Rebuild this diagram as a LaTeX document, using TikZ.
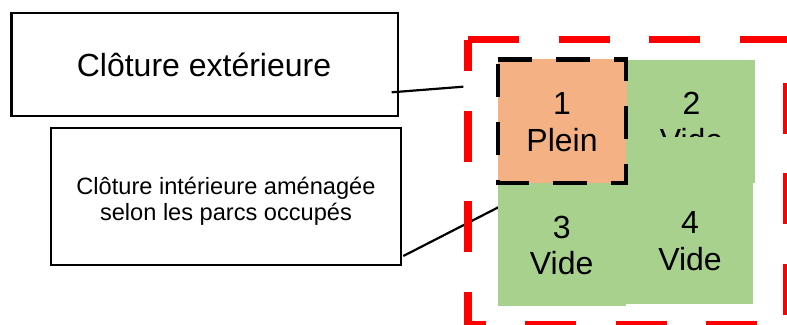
\documentclass[tikz,border=0pt]{standalone}
\usepackage{fontspec}
\setmainfont{Liberation Sans}
\definecolor{pleinc}{HTML}{F4B183}
\definecolor{videc}{HTML}{A9D18E}
\definecolor{fencec}{HTML}{FF0000}
\begin{document}
\begin{tikzpicture}[x=1pt,y=-1pt,
  labelbox/.style={draw=black, line width=2.4pt, fill=none, inner sep=0pt},
  park/.style={draw=none, inner sep=0pt},
  bigtxt/.style={inner sep=0pt, align=center, anchor=base, font=\fontsize{32}{36.8}\selectfont},
  smalltxt/.style={inner sep=0pt, align=center, anchor=base, font=\fontsize{23.6}{26}\selectfont},
  connector/.style={draw=black, line width=2.2pt},
  outerfence/.style={draw=fencec, line width=7.6pt, dash pattern=on 51pt off 39.5pt},
  innerfence/.style={draw=black, line width=4.4pt, dash pattern=on 33.5pt off 24.5pt}]
\useasboundingbox (0,0) rectangle (787,324);
% label boxes
\node[labelbox, minimum width=386.5pt, minimum height=103.4pt] (ext) at (204.55,64.5) {};
\node[labelbox, minimum width=349.5pt, minimum height=136.7pt] (int) at (225.95,196.35) {};
\node[bigtxt] (exttxt) at (204,76) {Clôture extérieure};
\node[smalltxt] (inttxt) at (226,220.4) {Clôture intérieure aménagée\\selon les parcs occupés};
% connectors
\coordinate (c1a) at (391.7,92.3);
\coordinate (c1b) at (463.3,86.7);
\coordinate (c2a) at (403.3,256);
\coordinate (c2b) at (498.3,207.3);
\draw[connector] (c1a) -- (c1b);
\draw[connector] (c2a) -- (c2b);
% parks
\node[park, fill=pleinc, minimum width=128.5pt, minimum height=124.5pt] (p1) at (562.25,120.75) {};
\node[park, fill=videc, minimum width=128pt, minimum height=123pt] (p2) at (691,121.5) {};
\node[bigtxt] (t1) at (562,151.7) {1\\Plein};
\node[bigtxt] (t2) at (691.5,151.7) {2\\Vide};
\node[park, fill=videc, minimum width=128pt, minimum height=123pt] (p3) at (562,244.5) {};
\node[park, fill=videc, minimum width=127.3pt, minimum height=167pt] (p4) at (689.7,220.5) {};
\node[bigtxt] (t3) at (561.7,274.8) {3\\Vide};
\node[bigtxt] (t4) at (690,270.5) {4\\Vide};
% fences
\coordinate (i1) at (498,59.5);
\coordinate (i2) at (625.7,59.5);
\coordinate (i3) at (625.7,182.7);
\coordinate (i4) at (498,182.7);
\draw[innerfence] (i1) -- (i2) -- (i3) -- (i4) -- cycle;
\coordinate (o1) at (468,39.5);
\coordinate (o2) at (786.8,39.5);
\coordinate (o3) at (786.8,324.8);
\coordinate (o4) at (468,324.8);
\draw[outerfence] (o1) -- (o2) -- (o3) -- (o4) -- cycle;
\end{tikzpicture}
\end{document}
